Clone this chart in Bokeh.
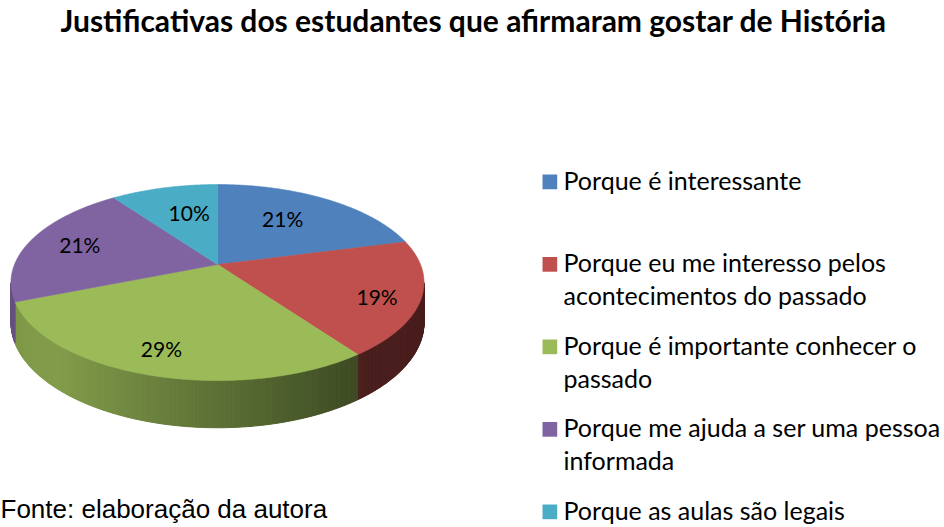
import math
from bokeh.plotting import figure
from bokeh.models import Range1d, ColumnDataSource
from bokeh.core.properties import value
from bokeh.embed import file_html
from bokeh.resources import INLINE

# ---------------- data ----------------
title_text = "Justificativas dos estudantes que afirmaram gostar de História"
categories = [
    "Porque é interessante",
    "Porque eu me interesso pelos\nacontecimentos do passado",
    "Porque é importante conhecer o\npassado",
    "Porque me ajuda a ser uma pessoa\ninformada",
    "Porque as aulas são legais",
]
percentages = [21, 19, 29, 21, 10]
colors = ["#4F81BD", "#C0504D", "#9BBB59", "#8064A2", "#4BACC6"]
source_note = "Fonte: elaboração da autora"

# ---------------- layout / style ----------------
W, H = 944, 527
CX, CY = 217.0, 264.0       # pie centre on canvas
B, A = 203.0, 94.7          # horizontal / vertical semi-axes
K = 0.184                   # perspective factor
D = 38.5                    # pie thickness
LABEL_R = [0.62, 0.81, 0.81, 0.73, 0.6]
LABEL_DT = [3.3, -4.6, -0.8, 0.5, -3.1]
FONT = "Lato"
MID = 0.4                   # baseline-to-middle offset, in em


def proj(t_deg, r=1.0):
    t = math.radians(t_deg)
    s, c = math.sin(t), math.cos(t)
    den = 1.0 + K * r * s
    return CX + B * r * c / den, CY - A * r * s / den


def depth(t_deg):
    return D / (1.0 + K * math.sin(math.radians(t_deg)))


def shade(hex_color, f):
    h = hex_color.lstrip("#")
    rgb = [int(h[i:i + 2], 16) for i in (0, 2, 4)]
    return "#%02x%02x%02x" % tuple(max(0, min(255, int(round(v * f)))) for v in rgb)


p = figure(width=W, height=H, x_range=Range1d(0, W), y_range=Range1d(H, 0),
           output_backend="svg", toolbar_location=None, title=None,
           x_axis_location=None, y_axis_location=None, min_border=0)
p.grid.visible = False
p.outline_line_color = None
p.background_fill_color = "white"
p.border_fill_color = "white"

total = float(sum(percentages))
starts, ends = [], []
ang = 90.0
for v in percentages:
    span = 360.0 * v / total
    starts.append(ang)
    ends.append(ang - span)
    ang -= span

# ---------------- side (front wall) ----------------
t_vis_hi = -math.degrees(math.asin(K))          # right silhouette
t_vis_lo = -180.0 - t_vis_hi                     # left silhouette
side_xs, side_ys, side_col = [], [], []
step = 0.5
for i in range(len(percentages)):
    s0, e0 = starts[i], ends[i]
    for off in (0.0, -360.0, 360.0):
        hi = min(s0 + off, t_vis_hi)
        lo = max(e0 + off, t_vis_lo)
        if hi <= lo:
            continue
        n = max(1, int(math.ceil((hi - lo) / step)))
        for j in range(n):
            ta = hi - (hi - lo) * j / n
            tb = hi - (hi - lo) * (j + 1) / n
            xa, ya = proj(ta)
            xb, yb = proj(tb)
            tm = 0.5 * (ta + tb)
            c = math.cos(math.radians(tm))
            f = 0.6 - 0.35 * c - 0.5 * max(0.0, -c - 0.7)
            f = min(0.83, max(0.38, f))
            side_xs.append([xa, xb, xb, xa])
            side_ys.append([ya, yb, yb + depth(tb), ya + depth(ta)])
            side_col.append(shade(colors[i], f))

p.patches(xs="xs", ys="ys", fill_color="c", line_color="c", line_width=1,
          source=ColumnDataSource(dict(xs=side_xs, ys=side_ys, c=side_col)))

# ---------------- top face ----------------
top_xs, top_ys = [], []
for i in range(len(percentages)):
    xs, ys = [CX], [CY]
    n = max(2, int(math.ceil((starts[i] - ends[i]) / step)))
    for j in range(n + 1):
        t = starts[i] - (starts[i] - ends[i]) * j / n
        x, y = proj(t)
        xs.append(x)
        ys.append(y)
    top_xs.append(xs)
    top_ys.append(ys)
p.patches(xs="xs", ys="ys", fill_color="c", line_color="c", line_width=0.6,
          source=ColumnDataSource(dict(xs=top_xs, ys=top_ys, c=colors)))

# ---------------- slice labels ----------------
lx, ly, lt = [], [], []
for i, v in enumerate(percentages):
    mid = 0.5 * (starts[i] + ends[i]) + LABEL_DT[i]
    x, y = proj(mid, LABEL_R[i])
    lx.append(x)
    ly.append(y - 2.0)
    lt.append("%d%%" % round(100.0 * v / total))
p.text(x=lx, y=ly, text=lt, text_font=value(FONT), text_font_size="21px",
       text_align="center", text_baseline="middle", text_color="black")

# ---------------- title ----------------
p.text(x=[473], y=[31.7 - MID * 30], text=[title_text], text_font=value(FONT),
       text_font_size="30px", text_font_style="bold", text_align="center",
       text_baseline="middle", text_color="black")

# ---------------- legend ----------------
leg_x_box, leg_x_text = 542.0, 563.0
base0, item_gap, line_gap = 189.0, 82.5, 33.0
sq_l, sq_r, sq_t, sq_b = [], [], [], []
tx, ty, tt = [], [], []
for i, cat in enumerate(categories):
    bl = base0 + item_gap * i
    sq_l.append(leg_x_box)
    sq_r.append(leg_x_box + 14.7)
    sq_t.append(bl - 15.0)
    sq_b.append(bl - 0.3)
    for j, line in enumerate(cat.split("\n")):
        tx.append(leg_x_text)
        ty.append(bl + line_gap * j - MID * 25)
        tt.append(line)
p.quad(left=sq_l, right=sq_r, top=sq_t, bottom=sq_b, fill_color=colors, line_color=None)
p.text(x=tx, y=ty, text=tt, text_font=value(FONT), text_font_size="25px",
       text_align="left", text_baseline="middle", text_color="black")

# ---------------- source note ----------------
p.text(x=[0], y=[519 - MID * 26], text=[source_note], text_font=value("Liberation Sans"),
       text_font_size="26px", text_align="left", text_baseline="middle",
       text_color="black")

open("out.html", "w").write(file_html(p, INLINE))
